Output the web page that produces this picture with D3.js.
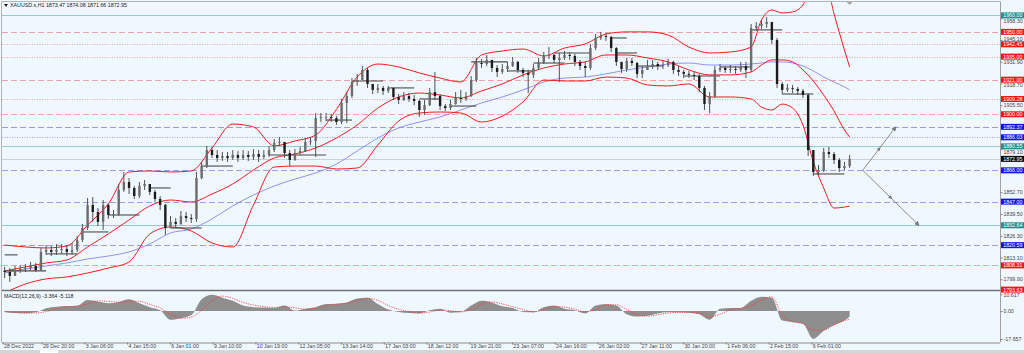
<!DOCTYPE html>
<html>
<head>
<meta charset="utf-8">
<script src="https://cdn.jsdelivr.net/npm/d3@7"></script>
<style>
  body { margin: 0; background: #f0f8ff; }
  svg { display: block; font-family: "Liberation Sans", Arial, sans-serif; }
</style>
</head>
<body>
<svg id="chart" width="1024" height="353"></svg>
<script>
// ---- data (one candle = 4 hourly bars) ----
const firstOpen = 1805.0;
const closes = [
  1804.3, 1801.9, 1805.5, 1806.1, 1806.7, 1808.0, 1805.5, 1816.5, 1817.7, 1816.5,
  1817.7, 1818.3, 1816.5, 1817.7, 1823.7, 1831.0, 1845.0, 1840.7, 1834.7, 1845.0,
  1838.9, 1839.5, 1854.1, 1858.9, 1855.3, 1850.4, 1856.5, 1857.7, 1852.9, 1848.6,
  1845.0, 1831.0, 1834.7, 1833.5, 1838.3, 1837.1, 1836.5, 1861.3, 1868.6, 1878.3,
  1875.3, 1873.5, 1874.7, 1873.5, 1875.3, 1873.5, 1875.3, 1874.1, 1875.9, 1874.1,
  1875.3, 1878.3, 1882.6, 1883.2, 1876.5, 1872.3, 1876.5, 1877.7, 1883.2, 1883.8,
  1897.7, 1898.3, 1898.3, 1897.7, 1895.3, 1906.9, 1911.1, 1919.6, 1920.8, 1926.9,
  1918.4, 1914.8, 1916.0, 1914.2, 1916.0, 1910.5, 1908.7, 1911.1, 1909.3, 1908.1,
  1902.6, 1905.6, 1913.5, 1911.1, 1905.0, 1903.8, 1906.2, 1909.9, 1909.3, 1911.1,
  1920.8, 1931.1, 1930.5, 1933.0, 1928.1, 1925.7, 1927.5, 1929.3, 1931.8, 1926.9,
  1925.1, 1923.9, 1928.1, 1931.8, 1935.4, 1936.0, 1933.0, 1934.2, 1936.0, 1935.4,
  1931.8, 1929.3, 1928.1, 1940.2, 1946.3, 1947.5, 1946.9, 1940.2, 1931.8, 1927.5,
  1932.4, 1931.1, 1924.5, 1926.9, 1929.3, 1930.5, 1929.3, 1929.9, 1931.8, 1926.9,
  1925.7, 1924.5, 1923.9, 1923.2, 1916.0, 1906.2, 1911.1, 1926.9, 1928.1, 1926.9,
  1927.5, 1926.9, 1929.3, 1926.9, 1952.4, 1953.6, 1954.8, 1956.0, 1945.1, 1918.4,
  1914.8, 1916.0, 1915.4, 1914.2, 1911.7, 1878.3, 1865.0, 1866.2, 1877.1, 1875.9,
  1872.3, 1867.4, 1868.6, 1872.95
];
const highs = [
  1807.4, 1806.7, 1808.0, 1808.6, 1809.2, 1810.4, 1809.8, 1818.9, 1820.7, 1820.1,
  1821.3, 1821.3, 1820.7, 1821.9, 1826.1, 1833.5, 1849.2, 1849.8, 1843.1, 1848.0,
  1846.0, 1841.9, 1857.7, 1865.0, 1861.3, 1856.5, 1858.9, 1860.1, 1857.7, 1854.1,
  1850.4, 1845.6, 1838.3, 1837.1, 1841.3, 1840.7, 1839.5, 1865.0, 1871.1, 1880.8,
  1880.2, 1878.3, 1877.1, 1877.1, 1878.3, 1877.7, 1878.3, 1877.7, 1878.9, 1878.3,
  1878.3, 1880.8, 1885.0, 1886.2, 1883.2, 1878.3, 1878.9, 1880.2, 1885.6, 1886.2,
  1900.8, 1900.8, 1900.8, 1900.2, 1899.0, 1909.3, 1913.5, 1922.0, 1924.5, 1929.3,
  1928.1, 1918.4, 1918.4, 1917.2, 1917.2, 1916.0, 1912.3, 1913.5, 1912.9, 1911.7,
  1908.7, 1908.7, 1916.0, 1925.7, 1912.3, 1906.2, 1908.7, 1913.5, 1914.8, 1913.5,
  1923.2, 1934.2, 1933.6, 1936.0, 1933.0, 1929.9, 1930.5, 1931.8, 1934.8, 1932.4,
  1928.1, 1926.9, 1930.5, 1934.2, 1937.8, 1940.8, 1936.6, 1937.2, 1938.4, 1937.8,
  1936.6, 1933.0, 1931.8, 1942.7, 1948.7, 1950.0, 1949.4, 1947.5, 1940.8, 1931.8,
  1934.2, 1934.2, 1931.8, 1929.3, 1933.0, 1933.0, 1931.8, 1932.4, 1933.6, 1932.4,
  1929.3, 1926.9, 1926.3, 1925.7, 1924.5, 1917.2, 1913.5, 1929.3, 1930.5, 1929.3,
  1929.9, 1929.3, 1931.8, 1931.8, 1954.8, 1956.0, 1957.2, 1959.0, 1956.0, 1946.3,
  1919.6, 1918.4, 1917.8, 1916.6, 1915.4, 1912.9, 1878.3, 1869.2, 1879.6, 1880.2,
  1877.1, 1873.5, 1871.1, 1875.3
];
const lows = [
  1800.6, 1798.3, 1801.9, 1803.7, 1804.3, 1805.5, 1804.3, 1805.5, 1814.7, 1814.0,
  1814.7, 1815.3, 1814.0, 1814.7, 1816.5, 1822.5, 1829.8, 1834.7, 1832.3, 1829.8,
  1836.5, 1837.1, 1838.3, 1852.9, 1851.6, 1848.6, 1849.2, 1854.1, 1851.0, 1846.8,
  1841.9, 1826.8, 1831.0, 1831.0, 1832.9, 1834.7, 1834.1, 1834.7, 1860.5, 1867.4,
  1873.5, 1871.1, 1871.7, 1871.1, 1872.3, 1871.1, 1872.3, 1871.7, 1872.3, 1871.1,
  1872.9, 1874.1, 1877.1, 1880.8, 1873.5, 1868.6, 1871.8, 1875.3, 1877.1, 1881.4,
  1874.1, 1895.3, 1895.9, 1895.3, 1893.5, 1894.1, 1894.7, 1909.9, 1917.2, 1920.8,
  1916.0, 1912.3, 1912.9, 1911.7, 1912.9, 1908.7, 1906.2, 1908.1, 1907.5, 1905.6,
  1898.4, 1899.6, 1905.0, 1908.7, 1902.6, 1902.0, 1902.6, 1905.8, 1906.9, 1908.1,
  1910.5, 1919.6, 1928.1, 1929.3, 1925.7, 1922.6, 1924.5, 1925.7, 1928.7, 1925.1,
  1922.6, 1912.9, 1922.0, 1926.9, 1930.5, 1933.6, 1931.1, 1919.6, 1933.0, 1933.0,
  1929.3, 1926.9, 1922.6, 1926.9, 1939.0, 1945.1, 1944.5, 1937.8, 1929.3, 1925.1,
  1925.7, 1929.3, 1922.0, 1922.0, 1926.9, 1927.5, 1926.9, 1927.5, 1928.7, 1924.5,
  1923.2, 1922.0, 1922.0, 1920.8, 1913.5, 1902.6, 1900.8, 1909.9, 1925.7, 1925.1,
  1925.1, 1924.5, 1925.7, 1922.0, 1925.7, 1950.6, 1951.8, 1952.4, 1942.7, 1916.0,
  1912.3, 1913.5, 1912.9, 1911.7, 1909.9, 1874.7, 1862.6, 1863.2, 1865.0, 1873.5,
  1869.8, 1865.0, 1866.2, 1867.4
];

// Bollinger bands (20,2) and the blue moving average, sampled at these candles
const bandK = [0, 4, 8, 12, 16, 20, 24, 28, 32, 36, 40, 44, 48, 52, 56, 60, 64, 68, 72, 76, 80, 84, 88, 92,
  96, 100, 104, 108, 112, 116, 120, 124, 128, 132, 136, 140, 144, 146, 148, 150, 152, 154, 156, 158, 160, 162, 163];
const bbUpper = [1820.7, 1819.5, 1818.9, 1820.1, 1832.8, 1845.6, 1865.0, 1865.6, 1865.0, 1865.6, 1879.6, 1894.1,
  1892.3, 1880.8, 1883.8, 1887.4, 1903.0, 1922.6, 1930.5, 1928.7, 1925.1, 1922.0, 1919.6, 1936.0,
  1938.4, 1939.6, 1935.4, 1940.2, 1942.7, 1948.7, 1950.0, 1950.0, 1948.1, 1940.8, 1937.2, 1937.8,
  1940.8, 1957.2, 1963.3, 1961.5, 1962.1, 1966.3, 1984.5, 1984.5, 1960.9, 1939.0, 1928.7];
const bbMiddle = [1804.9, 1807.4, 1809.8, 1811.6, 1819.5, 1827.4, 1835.9, 1844.4, 1848.0, 1846.8, 1851.6, 1857.7,
  1866.2, 1873.5, 1875.9, 1879.6, 1885.6, 1893.5, 1903.8, 1910.5, 1912.9, 1911.7, 1909.9, 1914.2,
  1918.4, 1923.9, 1928.1, 1930.5, 1931.8, 1936.0, 1936.0, 1934.2, 1931.8, 1926.9, 1923.9, 1923.9,
  1925.7, 1929.9, 1933.0, 1933.0, 1931.8, 1926.9, 1920.2, 1911.7, 1902.0, 1890.5, 1886.2];
const bbLower = [1791.6, 1797.0, 1800.1, 1801.3, 1803.7, 1806.7, 1810.4, 1827.4, 1831.6, 1829.2, 1821.9, 1819.5,
  1845.0, 1868.0, 1868.6, 1868.6, 1866.8, 1867.4, 1881.4, 1895.9, 1900.8, 1901.4, 1900.8, 1895.3,
  1898.9, 1907.5, 1920.8, 1920.2, 1920.2, 1922.6, 1922.0, 1917.8, 1917.2, 1918.4, 1910.5, 1910.5,
  1909.3, 1904.4, 1902.6, 1906.2, 1903.8, 1893.5, 1871.1, 1855.3, 1843.1, 1843.7, 1844.3];
const maBlue = [1803.7, 1806.1, 1808.0, 1809.8, 1812.2, 1814.0, 1816.5, 1821.3, 1828.0, 1830.4, 1836.5, 1844.4,
  1851.0, 1856.5, 1860.7, 1864.4, 1869.8, 1877.7, 1885.6, 1891.7, 1895.3, 1898.4, 1902.6, 1906.9,
  1910.5, 1914.8, 1919.6, 1922.0, 1922.6, 1924.5, 1926.9, 1928.7, 1930.5, 1931.1, 1929.9, 1929.9,
  1930.5, 1931.1, 1931.8, 1931.8, 1931.1, 1929.3, 1926.3, 1922.6, 1919.6, 1916.6, 1914.8];

// MACD(12,26,9), sampled every second candle plus the last one
const macdK = d3.range(0, 164, 2).concat([163]);
const macdHist = [-0.5, -1.2, -1.4, -0.8, 1.8, 2.8, 3.2, 3.4, 7.0, 6.0, 5.0,
  5.8, 7.5, 5.0, 2.5, 0.5, -5.5, -4.5, -2.5, 7.5, 10.4, 8.5,
  6.5, 3.5, 2.5, 2.2, 2.0, 3.5, 0.3, 1.5, 2.5, 4.5, 4.7,
  5.5, 8.0, 8.5, 4.5, 1.0, -0.5, -1.2, -1.5, 0.5, 1.5, -1.0,
  -0.5, 3.5, 6.5, 5.5, 3.0, 2.0, -0.5, -0.8, 2.5, 3.5, 1.5,
  0.5, -1.5, 3.5, 4.5, 3.5, -2.0, -3.5, -3.0, -1.5, -0.8, -0.8,
  -1.0, -2.0, -5.5, 1.5, 2.0, 2.0, 6.5, 9.1, 8.5, -6.0, -7.0,
  -8.0, -17.6, -12.5, -9.0, -6.0, -3.4];
const macdSignal = [-0.3, -0.8, -1.2, -1.2, -0.3, 1.5, 2.6, 3.1, 4.5, 6.5, 6.2,
  5.6, 6.3, 6.2, 4.2, 2.0, -2.0, -4.5, -3.8, 0.5, 6.5, 9.5,
  8.0, 5.5, 3.8, 2.8, 2.3, 2.6, 2.0, 1.2, 1.8, 3.2, 4.3,
  5.0, 6.5, 8.0, 6.8, 3.5, 1.2, -0.3, -1.2, -0.6, 0.6, 0.2,
  -0.5, 1.0, 4.5, 5.8, 4.5, 2.8, 1.0, -0.5, 0.8, 2.8, 2.5,
  1.2, -0.5, 1.0, 3.8, 4.0, 1.0, -2.2, -3.2, -2.3, -1.3, -0.9,
  -0.9, -1.5, -3.5, -2.0, 0.8, 1.8, 3.5, 7.0, 9.0, -2.5, -6.5,
  -8.0, -12.0, -12.0, -8.5, -6.0, -5.1];

// horizontal levels drawn on the chart
const levelPrices = [1960.00, 1950.00, 1942.45, 1935.00, 1921.00, 1909.28, 1900.00, 1892.37, 1886.03,
  1880.55, 1872.95, 1866.00, 1847.00, 1832.64, 1820.59, 1808.31, 1793.63];
const levelKinds = ['teal', 'redDash', 'redDot', 'redDot', 'redDash', 'redDot', 'redDash', 'blueDash', 'blueDot',
  'teal', 'price', 'blueDash', 'blueDash', 'teal', 'blueDash', 'redDash', 'redDash'];

// short support/resistance segments (candle index from..to, price)
const segFrom = [0, 0, 8, 15, 20, 28, 32, 38, 51, 62, 67, 74, 80, 86, 90, 97, 102, 106, 117, 118, 122, 131, 138, 144, 150, 156];
const segTo = [2.5, 8, 14, 20, 26, 32, 38, 44, 62, 67, 73, 79, 84, 91, 97, 102, 108, 113, 120, 122, 127, 138, 144, 150, 156, 162];
const segPrice = [1814.7, 1805.0, 1815.3, 1828.6, 1838.9, 1855.3, 1831.0, 1868.6, 1875.3, 1896.5, 1920.2, 1916.0,
  1909.3, 1905.0, 1931.8, 1926.3, 1931.1, 1937.2, 1946.3, 1937.2, 1929.3, 1923.2, 1928.7, 1951.2, 1912.3, 1863.8];

// projection arrows (hourly bar index, price)
const projStart = [663.6, 1866.00];
const projEnds = [[689.2, 1892.37], [707.0, 1832.64]];

const priceTicks = [1958.30, 1945.10, 1931.90, 1918.70, 1905.50, 1892.30, 1879.10, 1865.90, 1852.70,
  1839.50, 1826.30, 1813.10, 1799.90];
const macdTicks = [10.617, 0, -17.657];
const macdTickText = ['10.617', '0.00', '-17.657'];
const dateBars = [0, 30, 63, 96, 129, 162, 195, 228, 261, 294, 327, 360, 393, 426, 459, 492, 525, 558, 591, 624];
const dateLabels = ['28 Dec 2022', '29 Dec 20:00', '3 Jan 06:00', '4 Jan 15:00', '6 Jan 01:00', '9 Jan 10:00',
  '10 Jan 19:00', '12 Jan 05:00', '13 Jan 14:00', '17 Jan 03:00', '18 Jan 12:00', '19 Jan 21:00',
  '23 Jan 07:00', '24 Jan 16:00', '26 Jan 02:00', '27 Jan 11:00', '30 Jan 20:00', '1 Feb 06:00',
  '2 Feb 15:00', '6 Feb 01:00'];

const titleText = 'XAUUSD.s,H1  1873.47 1874.08 1871.66 1872.95';
const macdText = 'MACD(12,26,9) -3.364 -5.118';

// ---- layout ----
const panel = { left: 2, right: 1000, top: 2, mainBottom: 290, macdTop: 291, macdBottom: 342.5 };
const fontSize = 5.3;

const svg = d3.select('#chart');

const x = d3.scaleLinear().domain([0, 770]).range([2.7, 1000.6]);
const candleX = k => x(4 * k + 1.5);
const y = d3.scaleLinear().domain([1793.63, 1960]).range([289.6, 15.4]);
const yM = d3.scaleLinear().domain([-17.657, 10.617]).range([339, 294.3]);

svg.append('rect').attr('width', 1024).attr('height', 353).attr('fill', '#f0f8ff');

const defs = svg.append('defs');
defs.append('clipPath').attr('id', 'clipMain').append('rect')
  .attr('x', panel.left).attr('y', panel.top)
  .attr('width', panel.right - panel.left).attr('height', panel.mainBottom - panel.top);
defs.append('clipPath').attr('id', 'clipMacd').append('rect')
  .attr('x', panel.left).attr('y', panel.macdTop)
  .attr('width', panel.right - panel.left).attr('height', panel.macdBottom - panel.macdTop);
defs.append('marker').attr('id', 'arrowEnd')
  .attr('viewBox', '0 0 6 6').attr('refX', 5).attr('refY', 3)
  .attr('markerWidth', 5).attr('markerHeight', 5).attr('markerUnits', 'userSpaceOnUse')
  .attr('orient', 'auto')
  .append('path').attr('d', 'M0,0 L6,3 L0,6 z').attr('fill', '#7a7a7a');
defs.append('marker').attr('id', 'arrowMid')
  .attr('viewBox', '0 0 6 6').attr('refX', 3).attr('refY', 3)
  .attr('markerWidth', 4).attr('markerHeight', 4).attr('markerUnits', 'userSpaceOnUse')
  .attr('orient', 'auto')
  .append('path').attr('d', 'M0,0 L6,3 L0,6 z').attr('fill', '#7a7a7a');

const main = svg.append('g').attr('clip-path', 'url(#clipMain)');

// level lines
const levelStyle = {
  teal: { stroke: '#93cdd0', dash: null, box: '#23908d' },
  redDash: { stroke: '#f3a3a6', dash: '6,3', box: '#fa1414' },
  redDot: { stroke: '#f3a3a6', dash: '1,1.5', box: '#fa1414' },
  blueDash: { stroke: '#9c9cf4', dash: '6,3', box: '#1212f0' },
  blueDot: { stroke: '#9c9cf4', dash: '1,1.5', box: '#1212f0' },
  price: { stroke: '#cfcfd6', dash: null, box: '#0a0a0a' }
};
const levels = levelPrices.map((p, i) => ({ p, s: levelStyle[levelKinds[i]] }));

main.selectAll('.level')
  .data(levels)
  .join('line')
  .attr('class', 'level')
  .attr('x1', panel.left).attr('x2', panel.right)
  .attr('y1', d => Math.round(y(d.p)) + 0.5).attr('y2', d => Math.round(y(d.p)) + 0.5)
  .attr('stroke', d => d.s.stroke)
  .attr('stroke-width', 1)
  .attr('stroke-dasharray', d => d.s.dash);

// bands and moving average
const bandLine = vals => d3.line()
  .x((d, i) => candleX(bandK[i]))
  .y(d => y(d))
  .curve(d3.curveMonotoneX)(vals);

main.append('path').attr('d', bandLine(maBlue))
  .attr('fill', 'none').attr('stroke', '#8585f5').attr('stroke-width', 0.9);
[bbUpper, bbMiddle, bbLower].forEach(vals => {
  main.append('path').attr('d', bandLine(vals))
    .attr('fill', 'none').attr('stroke', '#f21c1c').attr('stroke-width', 1);
});

// segments
main.selectAll('.seg')
  .data(segPrice)
  .join('line')
  .attr('class', 'seg')
  .attr('x1', (d, i) => candleX(segFrom[i]))
  .attr('x2', (d, i) => candleX(segTo[i]))
  .attr('y1', d => y(d)).attr('y2', d => y(d))
  .attr('stroke', '#4a4a4a')
  .attr('stroke-width', 1.1);

// candles
const candles = closes.map((c, k) => ({
  k, o: k ? closes[k - 1] : firstOpen, c, h: highs[k], l: lows[k]
}));

main.selectAll('.wick')
  .data(candles)
  .join('line')
  .attr('class', 'wick')
  .attr('x1', d => candleX(d.k)).attr('x2', d => candleX(d.k))
  .attr('y1', d => y(d.h)).attr('y2', d => y(d.l))
  .attr('stroke', '#505050')
  .attr('stroke-width', 1);

main.selectAll('.body')
  .data(candles)
  .join('rect')
  .attr('class', 'body')
  .attr('x', d => candleX(d.k) - 1.2)
  .attr('width', 2.4)
  .attr('y', d => y(Math.max(d.o, d.c)))
  .attr('height', d => Math.max(0.8, Math.abs(y(d.o) - y(d.c))))
  .attr('fill', d => d.c >= d.o ? '#6c6c6c' : '#1c1c1c');

// projection arrows
const p0 = [x(projStart[0]), y(projStart[1])];
main.selectAll('.proj')
  .data(projEnds)
  .join('polyline')
  .attr('class', 'proj')
  .attr('points', d => {
    const p1 = [x(d[0]), y(d[1])];
    const m = [(p0[0] + p1[0]) / 2, (p0[1] + p1[1]) / 2];
    return [p0, m, p1].map(p => p.join(',')).join(' ');
  })
  .attr('fill', 'none')
  .attr('stroke', '#8a8a8a')
  .attr('stroke-width', 1)
  .attr('marker-mid', 'url(#arrowMid)')
  .attr('marker-end', 'url(#arrowEnd)');

// chart shift marker at top
svg.append('path')
  .attr('d', `M${candleX(163) - 3},${panel.top} L${candleX(163) + 3},${panel.top} L${candleX(163)},${panel.top + 3} z`)
  .attr('fill', '#a8a8a8');

// title
svg.append('path').attr('d', 'M4,4 L8,4 L6,7 z').attr('fill', '#222');
svg.append('text').attr('x', 10).attr('y', 7.3)
  .attr('font-size', fontSize).attr('fill', '#222').text(titleText);

// ---- MACD panel ----
const macd = svg.append('g').attr('clip-path', 'url(#clipMacd)');
macd.append('path')
  .attr('d', d3.area()
    .x((d, i) => candleX(macdK[i]))
    .y0(yM(0))
    .y1(d => yM(d))
    .curve(d3.curveMonotoneX)(macdHist))
  .attr('fill', '#8e8e8e');
macd.append('path')
  .attr('d', d3.line()
    .x((d, i) => candleX(macdK[i]))
    .y(d => yM(d))
    .curve(d3.curveMonotoneX)(macdSignal))
  .attr('fill', 'none')
  .attr('stroke', '#ff3b3b')
  .attr('stroke-width', 0.9)
  .attr('stroke-dasharray', '1.2,1.2');

svg.append('text').attr('x', 4).attr('y', 297.5)
  .attr('font-size', fontSize).attr('fill', '#222').text(macdText);

// ---- frames ----
svg.append('line').attr('x1', panel.left).attr('x2', panel.right)
  .attr('y1', 1.5).attr('y2', 1.5).attr('stroke', '#b4b4b4');
svg.append('line').attr('x1', 1.5).attr('x2', 1.5)
  .attr('y1', 1.5).attr('y2', panel.macdBottom).attr('stroke', '#b4b4b4');
svg.append('line').attr('x1', panel.left).attr('x2', panel.right)
  .attr('y1', 290.5).attr('y2', 290.5).attr('stroke', '#707070').attr('stroke-width', 1.3);
svg.append('line').attr('x1', panel.right + 0.5).attr('x2', panel.right + 0.5)
  .attr('y1', 1.5).attr('y2', panel.macdBottom).attr('stroke', '#a0a0a0');

// ---- right price axis ----
// tick labels sitting half under a level box are nudged clear of it
const boxCenters = levelPrices.map(p => y(p));
const tickShift = v => {
  const ty = y(v);
  const near = boxCenters.find(c => Math.abs(c - ty) < 5 && Math.abs(c - ty) > 0.5);
  return near === undefined ? 0 : (ty > near ? near + 5.6 - ty : near - 5.6 - ty);
};
const yAxis = d3.axisRight(y).tickValues(priceTicks).tickFormat(d3.format('.2f')).tickSize(2);
const yAxisG = svg.append('g').attr('transform', `translate(${panel.right + 0.5},0)`).call(yAxis);
yAxisG.select('.domain').remove();
yAxisG.selectAll('line').attr('stroke', '#808080');
yAxisG.selectAll('text').attr('x', 3).attr('font-size', fontSize).attr('fill', '#444')
  .attr('font-family', '"Liberation Sans", Arial, sans-serif')
  .attr('transform', d => `translate(0,${tickShift(d)})`);

const boxes = svg.selectAll('.lvlbox')
  .data(levels)
  .join('g')
  .attr('class', 'lvlbox')
  .attr('transform', d => `translate(${panel.right + 1},${y(d.p)})`);
boxes.append('rect').attr('x', 0).attr('y', -3).attr('width', 24).attr('height', 6)
  .attr('fill', d => d.s.box);
boxes.append('text').attr('x', 2.2).attr('y', 1.9)
  .attr('font-size', fontSize).attr('fill', '#fff')
  .text(d => d.p.toFixed(2));

// MACD axis
const mAxis = d3.axisRight(yM).tickValues(macdTicks).tickFormat((d, i) => macdTickText[i]).tickSize(2);
const mAxisG = svg.append('g').attr('transform', `translate(${panel.right + 0.5},0)`).call(mAxis);
mAxisG.select('.domain').remove();
mAxisG.selectAll('line').attr('stroke', '#808080');
mAxisG.selectAll('text').attr('x', 3).attr('font-size', fontSize).attr('fill', '#444')
  .attr('font-family', '"Liberation Sans", Arial, sans-serif');

// ---- time axis ----
const xAxis = d3.axisBottom(x).tickValues(dateBars).tickFormat((d, i) => dateLabels[i]).tickSize(2);
const xAxisG = svg.append('g').attr('transform', `translate(0,${panel.macdBottom})`).call(xAxis);
xAxisG.select('.domain').attr('d', `M${panel.left},0.5H${panel.right}`).attr('stroke', '#8a8a8a');
xAxisG.selectAll('line').attr('stroke', '#808080');
xAxisG.selectAll('text')
  .attr('text-anchor', 'start')
  .attr('x', 0.8).attr('y', 2.2)
  .attr('font-size', fontSize).attr('fill', '#444')
  .attr('font-family', '"Liberation Sans", Arial, sans-serif');

// bottom tab strip
svg.append('rect').attr('x', 0).attr('y', 350).attr('width', 1024).attr('height', 3).attr('fill', '#d6d6d6');
svg.append('rect').attr('x', 40).attr('y', 350).attr('width', 18).attr('height', 3).attr('fill', '#ffffff');
</script>
</body>
</html>
